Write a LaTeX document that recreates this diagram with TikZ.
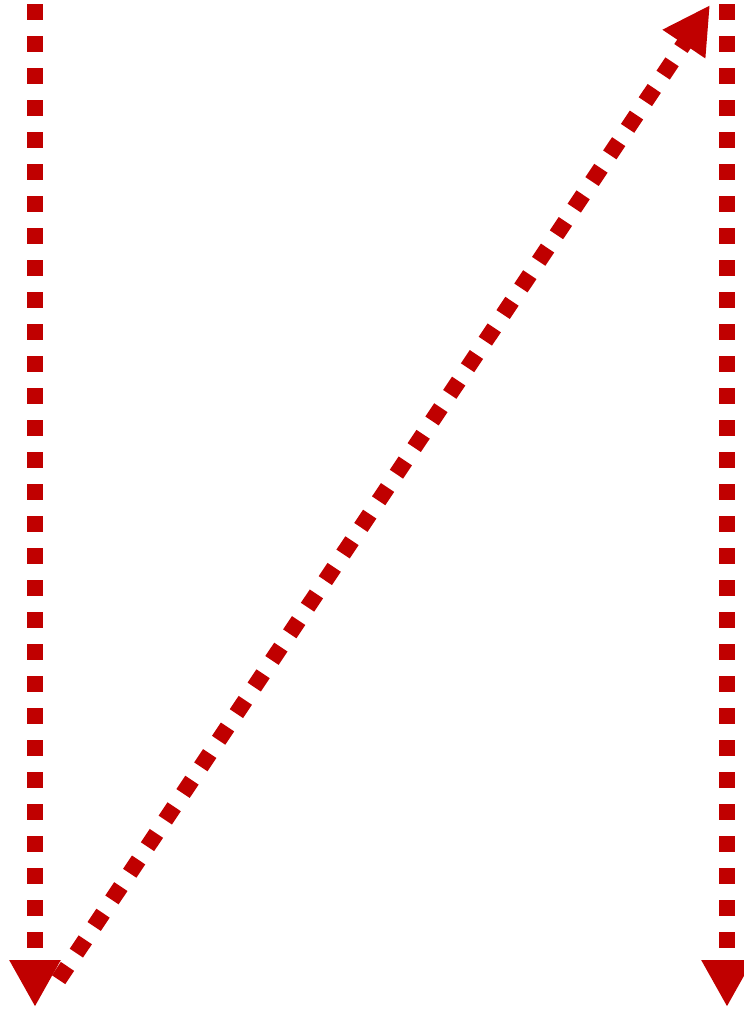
\documentclass[tikz,border=0pt]{standalone}
\usetikzlibrary{arrows.meta}
\definecolor{darkred}{RGB}{192,0,0}
\begin{document}
\begin{tikzpicture}[x=1pt,y=-1pt,
    flow/.style={darkred, line width=16pt, dash pattern=on 16pt off 16pt,
        -{Triangle[width=48pt,length=47pt]}}]
    % Page frame
    \useasboundingbox (0,0) rectangle (744,1009);

    % End points
    \coordinate (lefttop) at (35,4);
    \coordinate (leftbottom) at (35,1007);
    \coordinate (diagstart) at (58.6,979.7);
    \coordinate (diagend) at (710,5);
    \coordinate (righttop) at (727,4);
    \coordinate (rightbottom) at (727,1007);

    % Arrows
    \draw[flow] (lefttop) -- (leftbottom);
    \draw[flow] (diagstart) -- (diagend);
    \draw[flow] (righttop) -- (rightbottom);

\end{tikzpicture}
\end{document}
